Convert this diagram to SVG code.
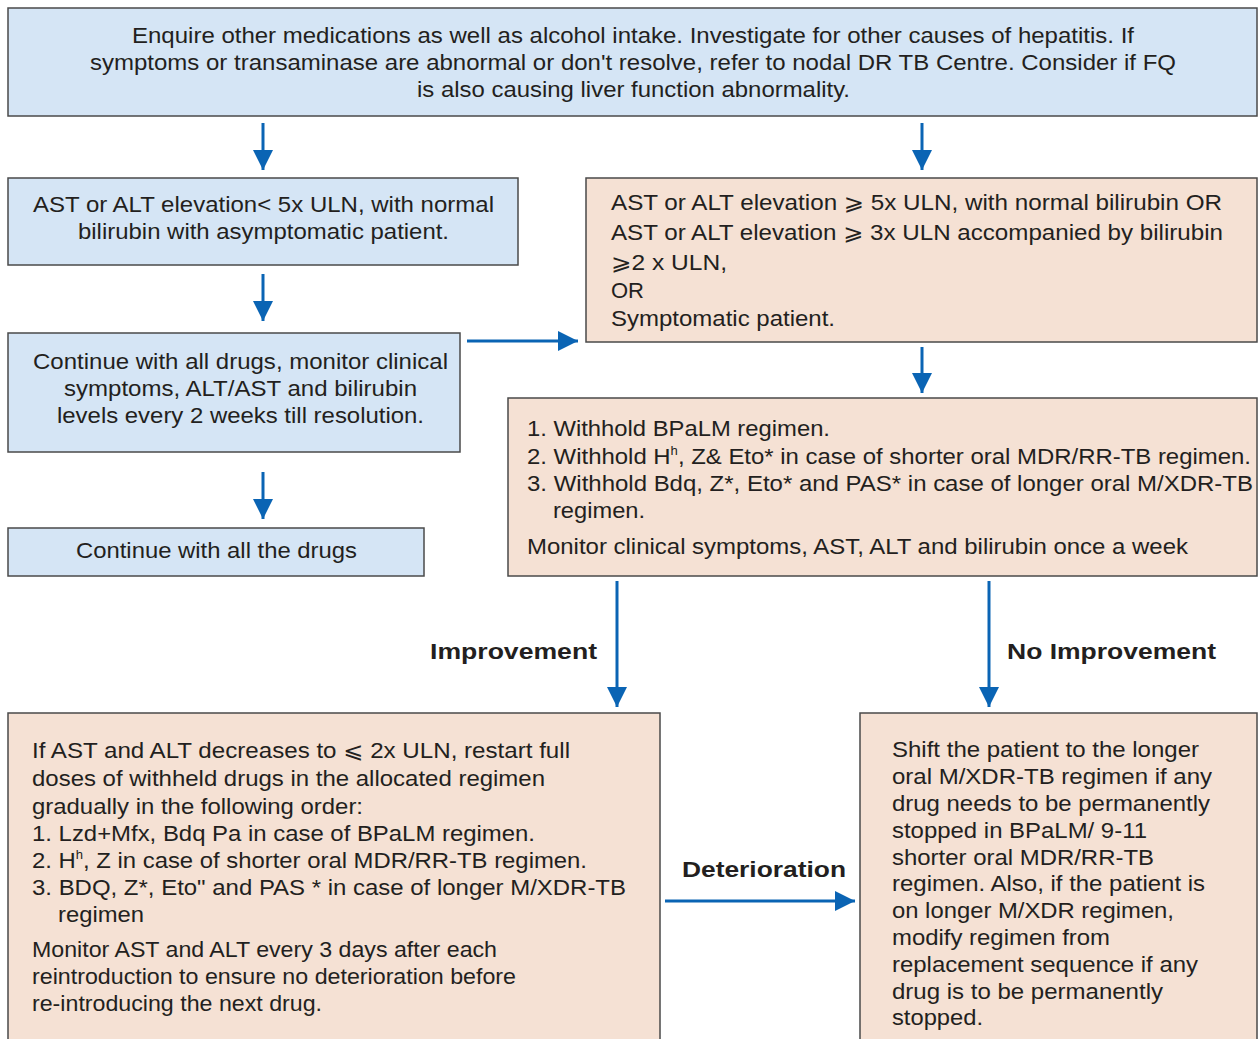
<svg xmlns="http://www.w3.org/2000/svg" width="1260" height="1039" viewBox="0 0 1260 1039">
<style>
.blue{fill:#d5e5f5;stroke:#4a4a4a;stroke-width:1.5}
.peach{fill:#f5e1d4;stroke:#4a4a4a;stroke-width:1.5}
text{font-family:"Liberation Sans","DejaVu Sans",sans-serif;font-size:22px;fill:#231f20}
.c{text-anchor:middle}
.b{font-weight:bold}
.arr{stroke:#0a64b4;stroke-width:3;fill:none;marker-end:url(#ah)}
.sup{font-size:12px}
</style>
<defs>
<marker id="ah" markerUnits="userSpaceOnUse" markerWidth="22" markerHeight="20" viewBox="0 0 22 20" refX="20" refY="10" orient="auto">
<polygon points="0,0 20,10 0,20" fill="#0a64b4"/>
</marker>
</defs>
<g id="connectors">
<line class="arr" x1="263" y1="123" x2="263" y2="170"/>
<line class="arr" x1="922" y1="123" x2="922" y2="170"/>
<line class="arr" x1="263" y1="274" x2="263" y2="321"/>
<line class="arr" x1="467" y1="341" x2="578" y2="341"/>
<line class="arr" x1="922" y1="347" x2="922" y2="393"/>
<line class="arr" x1="263" y1="472" x2="263" y2="519"/>
<line class="arr" x1="617" y1="581" x2="617" y2="707"/>
<line class="arr" x1="989" y1="581" x2="989" y2="707"/>
<line class="arr" x1="665" y1="901" x2="855" y2="901"/>
<text class="b" x="430" y="659" textLength="167" lengthAdjust="spacingAndGlyphs">Improvement</text>
<text class="b" x="1007" y="659" textLength="209" lengthAdjust="spacingAndGlyphs">No Improvement</text>
<text class="b" x="682" y="877" textLength="164" lengthAdjust="spacingAndGlyphs">Deterioration</text>
</g>
<g id="n1">
<rect class="blue" x="8" y="8" width="1249" height="108"/>
<text x="132" y="43" textLength="1002" lengthAdjust="spacingAndGlyphs">Enquire other medications as well as alcohol intake. Investigate for other causes of hepatitis. If</text>
<text x="90" y="70" textLength="1086" lengthAdjust="spacingAndGlyphs">symptoms or transaminase are abnormal or don't resolve, refer to nodal DR TB Centre. Consider if FQ</text>
<text x="417" y="97" textLength="433" lengthAdjust="spacingAndGlyphs">is also causing liver function abnormality.</text>
</g>
<g id="n2">
<rect class="blue" x="8" y="178" width="510" height="87"/>
<text x="33" y="212" textLength="461" lengthAdjust="spacingAndGlyphs">AST or ALT elevation&lt; 5x ULN, with normal</text>
<text x="78" y="239" textLength="371" lengthAdjust="spacingAndGlyphs">bilirubin with asymptomatic patient.</text>
</g>
<g id="n3">
<rect class="peach" x="586" y="178" width="671" height="164"/>
<text x="611" y="210" textLength="611" lengthAdjust="spacingAndGlyphs">AST or ALT elevation ⩾ 5x ULN, with normal bilirubin OR</text>
<text x="611" y="240" textLength="612" lengthAdjust="spacingAndGlyphs">AST or ALT elevation ⩾ 3x ULN accompanied by bilirubin</text>
<text x="611" y="270" textLength="116" lengthAdjust="spacingAndGlyphs">⩾2 x ULN,</text>
<text x="611" y="298">OR</text>
<text x="611" y="326" textLength="224" lengthAdjust="spacingAndGlyphs">Symptomatic patient.</text>
</g>
<g id="n4">
<rect class="blue" x="8" y="333" width="452" height="119"/>
<text x="33" y="369" textLength="415" lengthAdjust="spacingAndGlyphs">Continue with all drugs, monitor clinical</text>
<text x="64" y="396" textLength="353" lengthAdjust="spacingAndGlyphs">symptoms, ALT/AST and bilirubin</text>
<text x="57" y="423" textLength="367" lengthAdjust="spacingAndGlyphs">levels every 2 weeks till resolution.</text>
</g>
<g id="n5">
<rect class="peach" x="508" y="398" width="749" height="178"/>
<text x="527" y="436" textLength="303" lengthAdjust="spacingAndGlyphs">1. Withhold BPaLM regimen.</text>
<text x="527" y="464" textLength="724" lengthAdjust="spacingAndGlyphs">2. Withhold H<tspan class="sup" dy="-9">h</tspan><tspan dy="9">, Z&amp; Eto* in case of shorter oral MDR/RR-TB regimen.</tspan></text>
<text x="527" y="491" textLength="726" lengthAdjust="spacingAndGlyphs">3. Withhold Bdq, Z*, Eto* and PAS* in case of longer oral M/XDR-TB</text>
<text x="553" y="518" textLength="92" lengthAdjust="spacingAndGlyphs">regimen.</text>
<text x="527" y="554" textLength="661" lengthAdjust="spacingAndGlyphs">Monitor clinical symptoms, AST, ALT and bilirubin once a week</text>
</g>
<g id="n6">
<rect class="blue" x="8" y="528" width="416" height="48"/>
<text x="76" y="558" textLength="281" lengthAdjust="spacingAndGlyphs">Continue with all the drugs</text>
</g>
<g id="n7">
<rect class="peach" x="8" y="713" width="652" height="340"/>
<text x="32" y="758" textLength="538" lengthAdjust="spacingAndGlyphs">If AST and ALT decreases to ⩽ 2x ULN, restart full</text>
<text x="32" y="786" textLength="513" lengthAdjust="spacingAndGlyphs">doses of withheld drugs in the allocated regimen</text>
<text x="32" y="814" textLength="331" lengthAdjust="spacingAndGlyphs">gradually in the following order:</text>
<text x="32" y="841" textLength="503" lengthAdjust="spacingAndGlyphs">1. Lzd+Mfx, Bdq Pa in case of BPaLM regimen.</text>
<text x="32" y="868" textLength="555" lengthAdjust="spacingAndGlyphs">2. H<tspan class="sup" dy="-9">h</tspan><tspan dy="9">, Z in case of shorter oral MDR/RR-TB regimen.</tspan></text>
<text x="32" y="895" textLength="594" lengthAdjust="spacingAndGlyphs">3. BDQ, Z*, Eto" and PAS * in case of longer M/XDR-TB</text>
<text x="58" y="922" textLength="86" lengthAdjust="spacingAndGlyphs">regimen</text>
<text x="32" y="957" textLength="465" lengthAdjust="spacingAndGlyphs">Monitor AST and ALT every 3 days after each</text>
<text x="32" y="984" textLength="484" lengthAdjust="spacingAndGlyphs">reintroduction to ensure no deterioration before</text>
<text x="32" y="1011" textLength="290" lengthAdjust="spacingAndGlyphs">re-introducing the next drug.</text>
</g>
<g id="n8">
<rect class="peach" x="860" y="713" width="397" height="340"/>
<text x="892" y="757" textLength="307" lengthAdjust="spacingAndGlyphs">Shift the patient to the longer</text>
<text x="892" y="784" textLength="320" lengthAdjust="spacingAndGlyphs">oral M/XDR-TB regimen if any</text>
<text x="892" y="811" textLength="318" lengthAdjust="spacingAndGlyphs">drug needs to be permanently</text>
<text x="892" y="838" textLength="255" lengthAdjust="spacingAndGlyphs">stopped in BPaLM/ 9-11</text>
<text x="892" y="865" textLength="262" lengthAdjust="spacingAndGlyphs">shorter oral MDR/RR-TB</text>
<text x="892" y="891" textLength="313" lengthAdjust="spacingAndGlyphs">regimen. Also, if the patient is</text>
<text x="892" y="918" textLength="282" lengthAdjust="spacingAndGlyphs">on longer M/XDR regimen,</text>
<text x="892" y="945" textLength="218" lengthAdjust="spacingAndGlyphs">modify regimen from</text>
<text x="892" y="972" textLength="306" lengthAdjust="spacingAndGlyphs">replacement sequence if any</text>
<text x="892" y="999" textLength="271" lengthAdjust="spacingAndGlyphs">drug is to be permanently</text>
<text x="892" y="1025" textLength="91" lengthAdjust="spacingAndGlyphs">stopped.</text>
</g>
</svg>
